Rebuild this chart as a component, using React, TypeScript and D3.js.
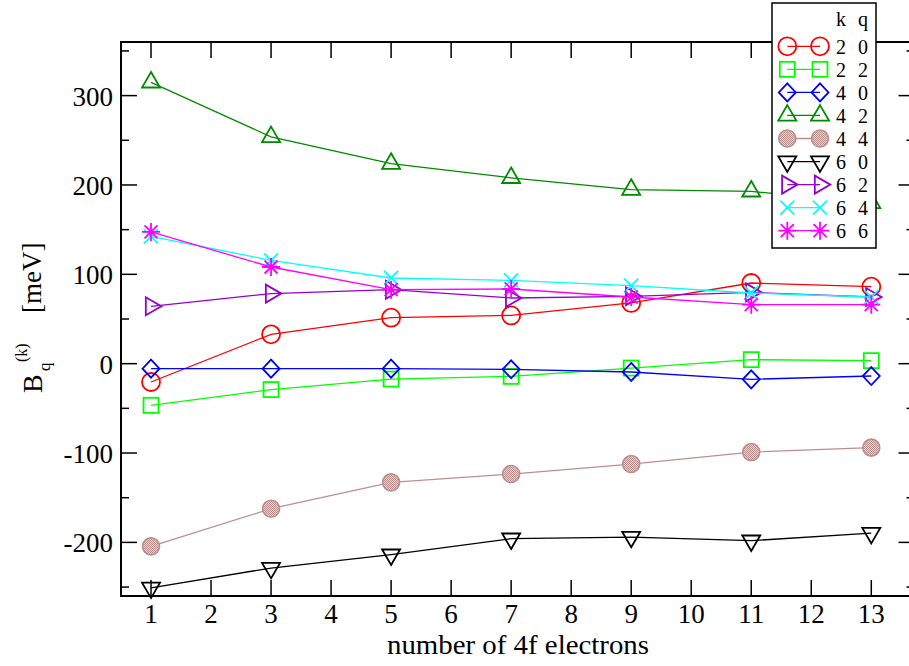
import React from "react";
import * as d3 from "d3";

const electrons = [1, 3, 5, 7, 9, 11, 13];
const b20 = [-20.5, 32.8, 51.5, 54, 68, 90.3, 86.2];
const b22 = [-46.6, -29, -17.2, -14.2, -4.9, 4.5, 3.4];
const b40 = [-5.6, -5.6, -5.6, -6.3, -9.3, -17.5, -13.8];
const b42 = [314.9, 253.8, 223.9, 208, 194.8, 192.9, 180];
const b44 = [-204.5, -162.3, -132.8, -123.5, -112.3, -98.9, -94];
const b60 = [-250.8, -228.7, -213.8, -195.9, -194, -198.1, -189.6];
const b62 = [64.2, 78.4, 82.8, 73.5, 75.4, 79.8, 74.6];
const b64 = [142.5, 115.7, 95.9, 93.3, 87.3, 79.1, 74.6];
const b66 = [147.4, 108.2, 82.8, 83.6, 74.6, 66, 66];

const xTicks = [1, 2, 3, 4, 5, 6, 7, 8, 9, 10, 11, 12, 13];
const yMajor = [-200, -100, 0, 100, 200, 300];
const yMinor = [-250, -150, -50, 50, 150, 250, 350];

type Sym = "circle" | "square" | "diamond" | "triUp" | "filled" | "triDown" | "triRight" | "cross" | "star";

const series: { k: string; q: string; values: number[]; color: string; sym: Sym }[] = [
  { k: "2", q: "0", values: b20, color: "#ff0000", sym: "circle" },
  { k: "2", q: "2", values: b22, color: "#00ff00", sym: "square" },
  { k: "4", q: "0", values: b40, color: "#0000ff", sym: "diamond" },
  { k: "4", q: "2", values: b42, color: "#008b00", sym: "triUp" },
  { k: "4", q: "4", values: b44, color: "#bc8f8f", sym: "filled" },
  { k: "6", q: "0", values: b60, color: "#000000", sym: "triDown" },
  { k: "6", q: "2", values: b62, color: "#9400d3", sym: "triRight" },
  { k: "6", q: "4", values: b64, color: "#00ffff", sym: "cross" },
  { k: "6", q: "6", values: b66, color: "#ff00ff", sym: "star" },
];

const FONT = "'Liberation Serif', 'DejaVu Serif', serif";

function Marker({ x, y, sym, color }: { x: number; y: number; sym: Sym; color: string }) {
  const sw = 1.8;
  const common = { stroke: color, strokeWidth: sw, fill: "none" };
  switch (sym) {
    case "circle":
      return <circle cx={x} cy={y} r={9} {...common} />;
    case "filled":
      return <circle cx={x} cy={y} r={8.5} stroke={color} strokeWidth={1.6} fill="url(#brownfill)" />;
    case "square":
      return <rect x={x - 7.5} y={y - 7.5} width={15} height={15} {...common} />;
    case "diamond":
      return <path d={`M${x},${y - 9}L${x + 8.5},${y}L${x},${y + 9}L${x - 8.5},${y}Z`} {...common} />;
    case "triUp":
      return <path d={`M${x},${y - 10.3}L${x + 9},${y + 5.2}L${x - 9},${y + 5.2}Z`} {...common} />;
    case "triDown":
      return <path d={`M${x},${y + 10.3}L${x + 9},${y - 5.2}L${x - 9},${y - 5.2}Z`} {...common} />;
    case "triRight":
      return <path d={`M${x + 10.3},${y}L${x - 5.2},${y - 9}L${x - 5.2},${y + 9}Z`} {...common} />;
    case "cross":
      return <path d={`M${x - 7},${y - 7}L${x + 7},${y + 7}M${x - 7},${y + 7}L${x + 7},${y - 7}`} {...common} />;
    case "star":
      return (
        <path
          d={`M${x},${y - 9}L${x},${y + 9}M${x - 9},${y}L${x + 9},${y}M${x - 6.5},${y - 6.5}L${x + 6.5},${y + 6.5}M${x - 6.5},${y + 6.5}L${x + 6.5},${y - 6.5}`}
          {...common}
        />
      );
  }
  return null;
}

export default function App() {
  const W = 909, H = 666;
  const x = d3.scaleLinear().domain([0.5, 13.72]).range([121, 914.5]);
  const y = d3.scaleLinear().domain([-260, 360]).range([596, 42]);
  const line = d3
    .line<number>()
    .x((_, i) => x(electrons[i]))
    .y((d) => y(d));

  const [x0, x1] = x.range();
  const [yb, yt] = y.range();

  const legX = 772, legY = 3, legW = 104, legH = 245;
  const rowY = (i: number) => 46.3 + i * 23.05;

  return (
    <svg width={W} height={H} style={{ position: "absolute", left: 0, top: 0, background: "white" }} fontFamily={FONT}>
      <defs>
        <pattern id="brownfill" width={2} height={2} patternUnits="userSpaceOnUse">
          <rect width={2} height={2} fill="#e4d0ce" />
          <rect width={1} height={1} fill="#bc8f8f" />
          <rect x={1} y={1} width={1} height={1} fill="#bc8f8f" />
        </pattern>
      </defs>
      <rect width={W} height={H} fill="white" />

      {/* ticks */}
      <g stroke="black" strokeWidth={1.5}>
        {xTicks.map((t) => (
          <g key={"xt" + t}>
            <line x1={x(t)} x2={x(t)} y1={yb} y2={yb - 16} />
            <line x1={x(t)} x2={x(t)} y1={yt} y2={yt + 16} />
          </g>
        ))}
        {yMajor.map((t) => (
          <g key={"ym" + t}>
            <line x1={x0} x2={x0 + 16} y1={y(t)} y2={y(t)} />
            <line x1={x1} x2={x1 - 16} y1={y(t)} y2={y(t)} />
          </g>
        ))}
        {yMinor.map((t) => (
          <g key={"yn" + t}>
            <line x1={x0} x2={x0 + 8} y1={y(t)} y2={y(t)} />
            <line x1={x1} x2={x1 - 8} y1={y(t)} y2={y(t)} />
          </g>
        ))}
      </g>

      {/* series */}
      {series.map((s, si) => (
        <g key={"s" + si}>
          <path d={line(s.values) || ""} fill="none" stroke={s.color} strokeWidth={1.3} />
          {s.values.map((v, i) => (
            <Marker key={i} x={x(electrons[i])} y={y(v)} sym={s.sym} color={s.color} />
          ))}
        </g>
      ))}

      {/* frame */}
      <rect x={x0} y={yt} width={x1 - x0} height={yb - yt} fill="none" stroke="black" strokeWidth={2} />

      {/* tick labels */}
      <g fontSize={27} fill="black">
        {xTicks.map((t) => (
          <text key={"xl" + t} x={x(t)} y={623} textAnchor="middle">
            {t}
          </text>
        ))}
        {yMajor.map((t) => (
          <text key={"yl" + t} x={113} y={y(t) + 10} textAnchor="end">
            {t}
          </text>
        ))}
      </g>

      {/* axis titles */}
      <text x={518} y={654} textAnchor="middle" fontSize={27} textLength={262} lengthAdjust="spacingAndGlyphs">
        number of 4f electrons
      </text>
      <g transform="translate(42,393) rotate(-90)" fill="black">
        <text x={0} y={0} fontSize={28}>B</text>
        <text x={22} y={8} fontSize={17}>q</text>
        <text x={31} y={-15} fontSize={16}>(k)</text>
        <text x={80} y={-1} fontSize={27}>[meV]</text>
      </g>

      {/* legend */}
      <rect x={legX} y={legY} width={legW} height={legH} fill="white" stroke="black" strokeWidth={1.5} />
      <g fontSize={20}>
        <text x={841} y={26} textAnchor="middle">k</text>
        <text x={863} y={26} textAnchor="middle">q</text>
        {series.map((s, i) => (
          <g key={"lg" + i}>
            <line x1={787.3} x2={820} y1={rowY(i)} y2={rowY(i)} stroke={s.color} strokeWidth={1.3} />
            <Marker x={787.3} y={rowY(i)} sym={s.sym} color={s.color} />
            <Marker x={820} y={rowY(i)} sym={s.sym} color={s.color} />
            <text x={841} y={rowY(i) + 7.5} textAnchor="middle">{s.k}</text>
            <text x={863} y={rowY(i) + 7.5} textAnchor="middle">{s.q}</text>
          </g>
        ))}
      </g>
    </svg>
  );
}
